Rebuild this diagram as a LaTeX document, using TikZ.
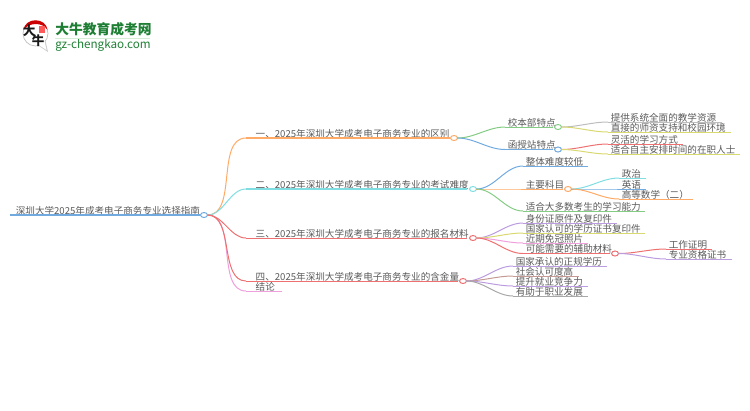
\documentclass[tikz,border=0pt]{standalone}
\usepackage{fontspec}
\setmainfont{Noto Sans CJK SC}
\usepackage{xcolor}
\usetikzlibrary{shapes.geometric}

\definecolor{ink}{HTML}{5A5A5A}
\definecolor{logogreen}{HTML}{1E7F34}
\definecolor{cOrange}{HTML}{FFAA66}
\definecolor{cCyan}{HTML}{80DEE2}
\definecolor{cRed}{HTML}{EE7070}
\definecolor{cPink}{HTML}{EFA0DC}
\definecolor{cGreen}{HTML}{84CC84}
\definecolor{cBlue}{HTML}{70AADF}
\definecolor{cGray}{HTML}{BDBDBD}
\definecolor{cYellow}{HTML}{D9D972}
\definecolor{cPurple}{HTML}{BB9CE0}
\definecolor{cBrown}{HTML}{C49A94}
\definecolor{cDark}{HTML}{A8A8A8}

\tikzset{
  topic/.style={anchor=south west,inner xsep=2pt,inner ysep=0.5pt,outer sep=0pt,text depth=0pt,
    font=\fontsize{6.9}{8}\selectfont,text=ink,align=left,text width=#1*0.72pt-4pt},
  knob/.style={ellipse,draw=#1,fill=white,line width=0.72pt,inner sep=0pt,
    minimum width=5pt,minimum height=3.6pt,outer sep=0pt},
  link/.style={#1,line width=0.72pt,out=0,in=180,looseness=0.9},
  rule/.style={#1,line width=0.72pt}
}

\begin{document}
\begin{tikzpicture}[x=0.72pt,y=-0.72pt]
    \useasboundingbox (0,0) rectangle (750,410);

    % logo
    \draw[gray!50,fill=white,line width=0.5pt] (35.5,33.5) circle(12.5);
    \coordinate (tail) at (48,52);
    \fill[gray!40] (39,46) -- (tail) -- (45.5,41) -- cycle;
    \fill[white] (39,45) -- (46.5,50) -- (44.5,41) -- cycle;
    \fill[red!80!black] (23.5,30) .. controls (25,17) and (46,17) .. (47.5,30)
                        .. controls (43,22) and (29,22) .. cycle;
    \fill[red!65] (39,26) rectangle (45,33);
    \node[inner sep=0pt,text=black!90] (logoA) at (29,31) {\fontsize{9}{9}\selectfont\bfseries 大};
    \node[inner sep=0pt,text=black!90] (logoB) at (38,41) {\fontsize{9}{9}\selectfont\bfseries 牛};
    \node[anchor=west,inner sep=0pt,text=logogreen] (logotitle) at (55,29.5)
         {\fontsize{9.9}{11}\selectfont\bfseries 大牛教育成考网};
    \node[anchor=west,inner sep=0pt,text=logogreen] (logourl) at (55,45)
         {\fontsize{8.4}{10}\selectfont gz-chengkao.com};
    \draw[cGreen!35,line width=0.7pt] (55,38.5) -- (150,38.5);

    % root
    \node[topic=190] (root) at (10,215) {\hspace*{2.2pt}深圳大学2025年成考电子商务专业选择指南};
    \draw[rule=cBlue,line width=1.1pt] (root.south west) -- (root.south east);
    \node[knob=cBlue] (rootk) at (204,215) {};

    % first level
    \node[topic=204] (one) at (246,138) {\hspace*{5pt}一、2025年深圳大学成考电子商务专业的区别};
    \node[topic=221] (two) at (246,189) {\hspace*{5pt}二、2025年深圳大学成考电子商务专业的考试难度};
    \node[topic=221] (three) at (246,238) {\hspace*{5pt}三、2025年深圳大学成考电子商务专业的报名材料};
    \node[topic=212] (four) at (246,281) {\hspace*{5pt}四、2025年深圳大学成考电子商务专业的含金量};
    \node[topic=36] (five) at (246,291) {\hspace*{5pt}结论};
    \node[knob=cOrange] (onek) at (454,138) {};
    \node[knob=cCyan] (twok) at (473,189) {};
    \node[knob=cRed] (threek) at (473,238) {};
    \node[knob=cRed] (fourk) at (463,281) {};

    \draw[rule=cOrange,line width=1pt] (one.south west) -- (one.south east);
    \draw[rule=cCyan,line width=1pt] (two.south west) -- (two.south east);
    \draw[rule=cRed] (three.south west) -- (three.south east);
    \draw[rule=cRed] (four.south west) -- (four.south east);
    \draw[rule=cPink] (five.south west) -- (five.south east);

    \draw[link=cPink] (rootk.east) to (five.south west);
    \draw[link=cOrange] (rootk.east) to (one.south west);
    \draw[link=cCyan] (rootk.east) to (two.south west);
    \draw[link=cRed] (rootk.east) to (three.south west);
    \draw[link=cRed] (rootk.east) to (four.south west);

    % second level
    \node[topic=48] (school) at (505,127) {校本部特点};
    \node[topic=48] (station) at (505,149.5) {函授站特点};
    \node[knob=cGreen] (schoolk) at (558,127) {};
    \node[knob=cBlue] (stationk) at (558,149.5) {};
    \node[topic=65] (overall) at (523,166) {整体难度较低};
    \node[topic=40] (subject) at (523,189) {主要科目};
    \node[knob=cOrange] (subjectk) at (568,189) {};
    \node[topic=122] (suit) at (523,211) {适合大多数考生的学习能力};
    \node[topic=94] (idcard) at (523,223) {身份证原件及复印件};
    \node[topic=122] (diploma) at (523,233) {国家认可的学历证书复印件};
    \node[topic=65] (photo) at (523,243) {近期免冠照片};
    \node[topic=87] (extra) at (523,253.5) {可能需要的辅助材料};
    \node[knob=cRed] (extrak) at (615,253.5) {};
    \node[topic=94] (formal) at (513,266) {国家承认的正规学历};
    \node[topic=66] (social) at (513,276) {社会认可度高};
    \node[topic=75] (compete) at (513,286) {提升就业竞争力};
    \node[topic=75] (career) at (513,296) {有助于职业发展};

    \draw[rule=cGreen] (school.south west) -- (school.south east);
    \draw[rule=cBlue] (station.south west) -- (station.south east);
    \draw[rule=cBlue] (overall.south west) -- (overall.south east);
    \draw[rule=cOrange] (subject.south west) -- (subject.south east);
    \draw[rule=cGreen] (suit.south west) -- (suit.south east);
    \draw[rule=cPurple] (idcard.south west) -- (idcard.south east);
    \draw[rule=cYellow] (diploma.south west) -- (diploma.south east);
    \draw[rule=cPink] (photo.south west) -- (photo.south east);
    \draw[rule=cRed] (extra.south west) -- (extra.south east);
    \draw[rule=cPurple] (formal.south west) -- (formal.south east);
    \draw[rule=cBrown] (social.south west) -- (social.south east);
    \draw[rule=cPurple] (compete.south west) -- (compete.south east);
    \draw[rule=cDark] (career.south west) -- (career.south east);

    \draw[link=cGreen] (onek.east) to (school.south west);
    \draw[link=cBlue] (onek.east) to (station.south west);
    \draw[link=cBlue] (twok.east) to (overall.south west);
    \draw[link=cOrange] (twok.east) to (subject.south west);
    \draw[link=cGreen] (twok.east) to (suit.south west);
    \draw[link=cPurple] (threek.east) to (idcard.south west);
    \draw[link=cYellow] (threek.east) to (diploma.south west);
    \draw[link=cPink] (threek.east) to (photo.south west);
    \draw[link=cRed] (threek.east) to (extra.south west);
    \draw[link=cPurple] (fourk.east) to (formal.south west);
    \draw[link=cBrown] (fourk.east) to (social.south west);
    \draw[link=cPurple] (fourk.east) to (compete.south west);
    \draw[link=cDark] (fourk.east) to (career.south west);

    % third level
    \node[topic=114] (system) at (608,122) {提供系统全面的教学资源};
    \node[topic=123] (teacher) at (608,132) {直接的师资支持和校园环境};
    \node[topic=75] (flexible) at (608,144) {灵活的学习方式};
    \node[topic=132] (onjob) at (608,154) {适合自主安排时间的在职人士};
    \node[topic=27] (politics) at (619,178) {政治};
    \node[topic=27] (english) at (619,189) {英语};
    \node[topic=74] (maths) at (619,199) {高等数学（二）};
    \node[topic=46] (workproof) at (666,249) {工作证明};
    \node[topic=66] (license) at (666,259) {专业资格证书};

    \draw[rule=cGray] (system.south west) -- (system.south east);
    \draw[rule=cYellow] (teacher.south west) -- (teacher.south east);
    \draw[rule=cRed] (flexible.south west) -- (flexible.south east);
    \draw[rule=cYellow] (onjob.south west) -- (onjob.south east);
    \draw[rule=cCyan] (politics.south west) -- (politics.south east);
    \draw[rule=cBlue] (english.south west) -- (english.south east);
    \draw[rule=cOrange] (maths.south west) -- (maths.south east);
    \draw[rule=cRed] (workproof.south west) -- (workproof.south east);
    \draw[rule=cPurple] (license.south west) -- (license.south east);

    \draw[link=cGray] (schoolk.east) to (system.south west);
    \draw[link=cYellow] (schoolk.east) to (teacher.south west);
    \draw[link=cRed] (stationk.east) to (flexible.south west);
    \draw[link=cYellow] (stationk.east) to (onjob.south west);
    \draw[link=cCyan] (subjectk.east) to (politics.south west);
    \draw[link=cBlue] (subjectk.east) to (english.south west);
    \draw[link=cOrange] (subjectk.east) to (maths.south west);
    \draw[link=cRed] (extrak.east) to (workproof.south west);
    \draw[link=cPurple] (extrak.east) to (license.south west);
\end{tikzpicture}
\end{document}
